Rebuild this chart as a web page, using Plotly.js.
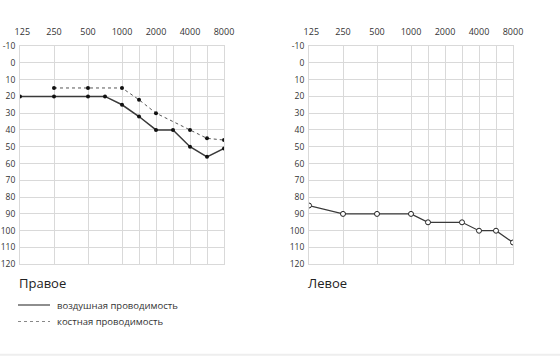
<!DOCTYPE html>
<html>
<head>
<meta charset="utf-8">
<script src="https://cdn.plot.ly/plotly-3.0.1.min.js"></script>
<style>html,body{margin:0;padding:0;background:#fff}#chart{width:560px;height:356px}</style>
</head>
<body>
<div id="chart"></div>
<script>
// ---- data ----
const tickFreqs = [125, 250, 500, 1000, 1500, 2000, 3000, 4000, 6000, 8000];
const tickLabels = ['&nbsp;&nbsp;125', '250', '500', '1000', '', '2000', '', '4000', '', '8000'];
const dbTicks = [-10, 0, 10, 20, 30, 40, 50, 60, 70, 80, 90, 100, 110, 120];

const rightAirFreqs = [125, 250, 500, 750, 1000, 1500, 2000, 3000, 4000, 6000, 8000];
const rightAirDb    = [20, 20, 20, 20, 25, 32, 40, 40, 50, 56, 51];

const rightBoneFreqs = [250, 500, 1000, 1500, 2000, 4000, 6000, 8000];
const rightBoneDb    = [15, 15, 15, 22, 30, 40, 45, 46];

const leftAirFreqs = [125, 250, 500, 1000, 1500, 3000, 4000, 6000, 8000];
const leftAirDb    = [85, 90, 90, 90, 95, 95, 100, 100, 107];

const titles = ['Правое', 'Левое'];
const legendLabels = ['воздушная проводимость', 'костная проводимость'];

// audiogram position: octaves above 125 Hz, snapped to half-octave grid
const pos = f => Math.round(2 * Math.log2(f / 125)) / 2;

const W = 560, H = 356;
const FONT = 'Open Sans, Noto Sans, sans-serif';
const grid = '#d9d9d9';

const traces = [
  {x: rightAirFreqs.map(pos), y: rightAirDb, xaxis: 'x', yaxis: 'y', mode: 'lines+markers',
   line: {color: '#3a3a3a', width: 1.5}, marker: {color: '#111', size: 4}, hoverinfo: 'skip'},
  {x: rightBoneFreqs.map(pos), y: rightBoneDb, xaxis: 'x', yaxis: 'y', mode: 'lines+markers',
   line: {color: '#555', width: 1, dash: 'dot'}, marker: {color: '#111', size: 4}, hoverinfo: 'skip'},
  {x: leftAirFreqs.map(pos), y: leftAirDb, xaxis: 'x2', yaxis: 'y2', mode: 'lines+markers',
   line: {color: '#3a3a3a', width: 1.2},
   marker: {color: '#fff', size: 5, line: {color: '#222', width: 1}}, hoverinfo: 'skip'}
];

const yDom = [1 - 264.3 / H, 1 - 46 / H];
function xAx(d0, d1) {
  return {
    domain: [d0 / W, d1 / W], range: [0, 6], side: 'top',
    tickmode: 'array', tickvals: tickFreqs.map(pos), ticktext: tickLabels,
    showgrid: true, gridcolor: grid, gridwidth: 1, zeroline: false,
    showline: true, mirror: true, linecolor: grid, linewidth: 1,
    ticks: '', ticklabelstandoff: 6,
    tickfont: {size: 9, color: '#333', family: FONT}, fixedrange: true
  };
}
function yAx(anchor) {
  return {
    domain: yDom, range: [120, -10], anchor: anchor,
    tickmode: 'array', tickvals: dbTicks, ticktext: dbTicks.map(String),
    showgrid: true, gridcolor: grid, gridwidth: 1, zeroline: false,
    showline: true, mirror: true, linecolor: grid, linewidth: 1,
    ticks: '', ticklabelstandoff: 2,
    tickfont: {size: 8.5, color: '#333', family: FONT}, fixedrange: true
  };
}

const layout = {
  width: W, height: H, margin: {l: 0, r: 0, t: 0, b: 0},
  paper_bgcolor: '#fff', plot_bgcolor: '#fff', showlegend: false,
  font: {family: FONT, color: '#333'},
  xaxis: Object.assign(xAx(20, 224), {anchor: 'y'}),
  yaxis: yAx('x'),
  xaxis2: Object.assign(xAx(309, 513), {anchor: 'y2'}),
  yaxis2: yAx('x2'),
  annotations: [
    {xref: 'paper', yref: 'paper', x: 17 / W, y: 1 - 283 / H, xanchor: 'left', yanchor: 'middle',
     text: titles[0], showarrow: false, font: {size: 13, color: '#222', family: FONT}},
    {xref: 'paper', yref: 'paper', x: 306 / W, y: 1 - 283 / H, xanchor: 'left', yanchor: 'middle',
     text: titles[1], showarrow: false, font: {size: 13, color: '#222', family: FONT}},
    {xref: 'paper', yref: 'paper', x: 55 / W, y: 1 - 305 / H, xanchor: 'left', yanchor: 'middle',
     text: legendLabels[0], showarrow: false, font: {size: 9.5, color: '#333', family: FONT}},
    {xref: 'paper', yref: 'paper', x: 55 / W, y: 1 - 321.5 / H, xanchor: 'left', yanchor: 'middle',
     text: legendLabels[1], showarrow: false, font: {size: 9.5, color: '#333', family: FONT}}
  ],
  shapes: [
    {type: 'line', xref: 'paper', yref: 'paper', x0: 18 / W, x1: 50 / W, y0: 1 - 305 / H, y1: 1 - 305 / H,
     line: {color: '#444', width: 1.2}},
    {type: 'line', xref: 'paper', yref: 'paper', x0: 18 / W, x1: 50 / W, y0: 1 - 321.5 / H, y1: 1 - 321.5 / H,
     line: {color: '#888', width: 1, dash: 'dot'}},
    {type: 'line', xref: 'paper', yref: 'paper', x0: 0, x1: 1, y0: 1.2 / H, y1: 1.2 / H,
     line: {color: '#eeeeee', width: 2}}
  ]
};

Plotly.newPlot('chart', traces, layout, {displayModeBar: false, staticPlot: true});
</script>
</body>
</html>
